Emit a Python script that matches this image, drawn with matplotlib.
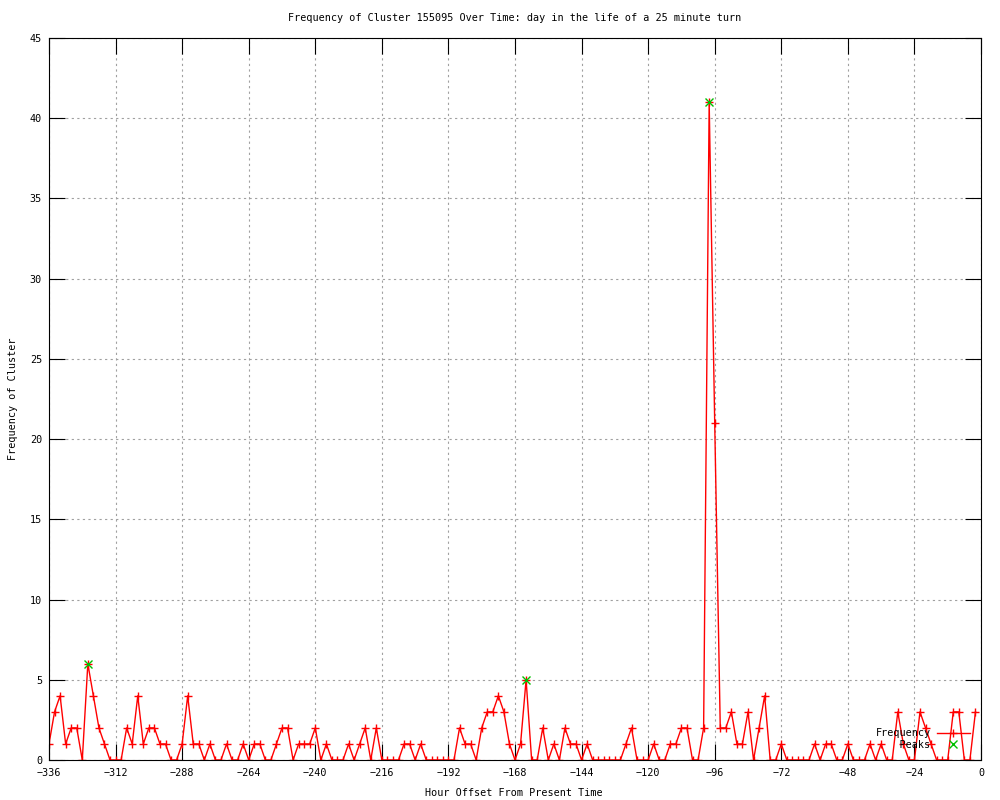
import numpy as np
import matplotlib
matplotlib.use('Agg')
import matplotlib.pyplot as plt

# hourly bins, every 2 hours from -336 to -2
hours = np.arange(-336, 0, 2)
freq = [1, 3, 4, 1, 2, 2, 0, 6, 4, 2, 1, 0, 0, 0, 2, 1, 4, 1, 2, 2,
        1, 1, 0, 0, 1, 4, 1, 1, 0, 1, 0, 0, 1, 0, 0, 1, 0, 1, 1, 0,
        0, 1, 2, 2, 0, 1, 1, 1, 2, 0, 1, 0, 0, 0, 1, 0, 1, 2, 0, 2,
        0, 0, 0, 0, 1, 1, 0, 1, 0, 0, 0, 0, 0, 0, 2, 1, 1, 0, 2, 3,
        3, 4, 3, 1, 0, 1, 5, 0, 0, 2, 0, 1, 0, 2, 1, 1, 0, 1, 0, 0,
        0, 0, 0, 0, 1, 2, 0, 0, 0, 1, 0, 0, 1, 1, 2, 2, 0, 0, 2, 41,
        21, 2, 2, 3, 1, 1, 3, 0, 2, 4, 0, 0, 1, 0, 0, 0, 0, 0, 1, 0,
        1, 1, 0, 0, 1, 0, 0, 0, 1, 0, 1, 0, 0, 3, 1, 0, 0, 3, 2, 1,
        0, 0, 0, 3, 3, 0, 0, 3]

peak_hours = [-322, -164, -98]
peak_values = [6, 5, 41]

xticks = list(range(-336, 1, 24))
yticks = list(range(0, 46, 5))

plt.rcParams['font.family'] = ['DejaVu Sans Mono']
plt.rcParams['font.size'] = 7.3

fig = plt.figure(figsize=(10, 8), dpi=100)
ax = fig.add_axes([49 / 1000, 40 / 800, 932 / 1000, 722 / 800])

ax.plot(hours, freq, color='#ff0000', lw=1.0, marker='+', ms=5.5, mew=1.0,
        label='Frequency')
ax.plot(peak_hours, peak_values, ls='none', color='#00c000', marker='x',
        ms=5.5, mew=1.0, label='    Peaks')

ax.set_xlim(-336, 0)
ax.set_ylim(0, 45)
ax.set_xticks(xticks)
ax.set_yticks(yticks)
ax.tick_params(direction='in', length=11.5, width=0.8, top=True, right=True,
               labelsize=7.3)
ax.tick_params(axis='x', pad=6)
ax.tick_params(axis='y', pad=5)
ax.grid(True, color='#a0a0a0', ls=(0, (2, 3)), lw=0.8)
for s in ax.spines.values():
    s.set_linewidth(0.8)

fig.text(515 / 1000, 1 - 18 / 800,
         'Frequency of Cluster 155095 Over Time: day in the life of a 25 minute turn',
         ha='center', va='center')
fig.text(514 / 1000, 1 - 793 / 800, 'Hour Offset From Present Time',
         ha='center', va='center')
fig.text(13 / 1000, 1 - 399 / 800, 'Frequency of Cluster',
         ha='center', va='center', rotation=90)

ax.legend(loc='lower right', bbox_to_anchor=(0.997, 0.003), frameon=False,
          markerfirst=False, handlelength=3.3, handletextpad=0.6,
          labelspacing=0.15, borderpad=0.3, fontsize=7.3)

fig.savefig('out.png', dpi=100)
